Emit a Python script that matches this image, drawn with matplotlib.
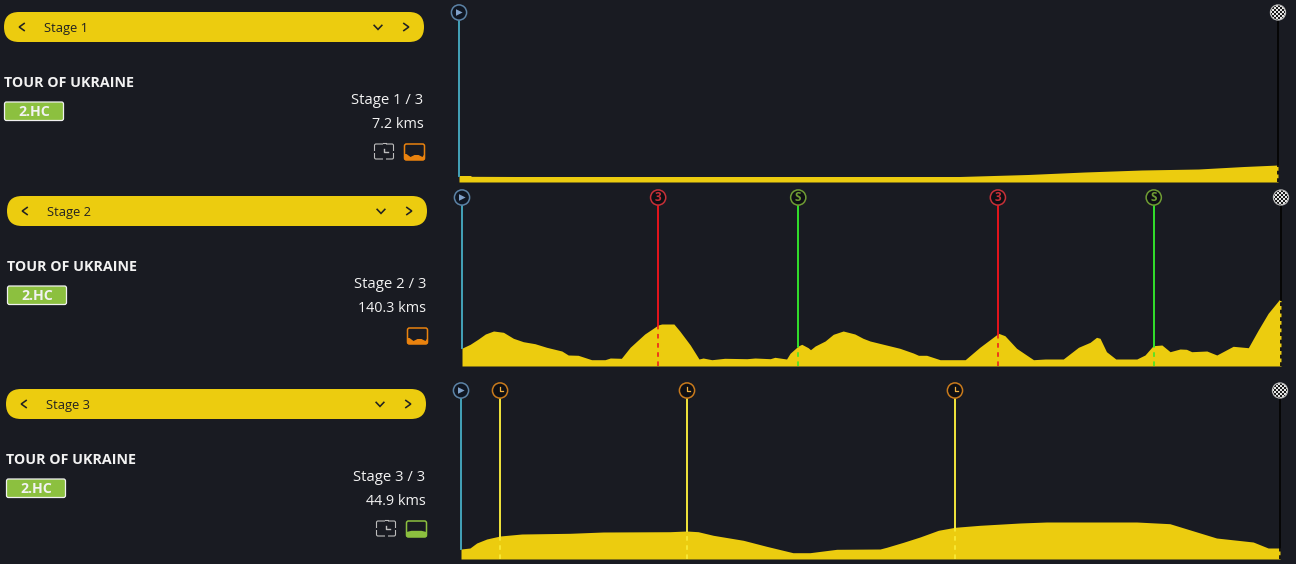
import numpy as np
import matplotlib
matplotlib.use("Agg")
import matplotlib.pyplot as plt
from matplotlib.patches import FancyBboxPatch, Circle, Rectangle, Polygon

plt.rcParams['font.family'] = ['Open Sans', 'DejaVu Sans']

race_name = "TOUR OF UKRAINE"
race_class = "2.HC"
stage_names = ["Stage 1", "Stage 2", "Stage 3"]
stage_counts = ["Stage 1 / 3", "Stage 2 / 3", "Stage 3 / 3"]
stage_lengths = ["7.2 kms", "140.3 kms", "44.9 kms"]
stage_totals = [7.2, 140.3, 44.9]

km_1 = [0, 0.1, 0.11, 0.5, 2.5, 4.4, 5.0, 5.5, 6.0, 6.5, 6.9, 7.2]
elev_1 = [6.5, 6.5, 5.7, 5.5, 5.5, 5.5, 7.5, 10, 12, 13, 15.5, 17]

km_2 = [0, 0.05, 1.4, 2.8, 4.0, 5.4, 7.1, 8.8, 10.5, 12.5, 14.5, 17.1, 18.2, 19.9, 22.2, 24.5, 25.4, 27.3,
        28.8, 31.3, 33.6, 34.2, 36.3, 37.3, 39.1, 40.6, 41.3, 42.8, 45.0, 48.8, 50.2, 52.8, 53.6, 55.6,
        56.2, 57.6, 58.2, 59.3, 59.7, 60.5, 62.2, 63.6, 65.3, 67.3, 68.7, 69.9, 72.2, 75.0, 77.3, 78.2,
        79.6, 81.9, 86.2, 88.7, 91.9, 93.0, 95.0, 96.7, 97.9, 99.9, 103.0, 105.6, 107.6, 108.7, 109.3,
        110.4, 112.0, 115.6, 117.0, 118.4, 119.9, 121.3, 123.0, 124.1, 125.0, 127.6, 129.3, 132.1, 134.7,
        136.4, 138.1, 140.1, 140.3]
elev_2 = [17.7, 18, 21.7, 27, 32, 35, 33.7, 27.7, 24.3, 22.3, 18.7, 15, 11, 10.7, 6.3, 6.3, 8, 7.7,
          18.7, 32, 41, 42, 42, 35, 21, 7, 8, 6.3, 7.7, 7.3, 8, 7.3, 8.7, 7,
          12.7, 20, 21.7, 18.3, 16.3, 20, 25, 31.7, 35, 32, 27.7, 25, 21.7, 17.7, 13, 10.7,
          10.7, 6.3, 6.3, 18.7, 32.7, 30.3, 17.7, 11, 6.3, 7, 7, 18.7, 23.7, 28.7, 27.7,
          14.3, 7, 7, 11, 20.3, 21, 14.3, 17, 16.7, 14.3, 15, 11, 19.7, 18.3,
          36, 52.7, 67, 66]

km_3 = [0, 0.49, 0.86, 1.41, 2.14, 3.33, 5.97, 7.8, 11.46, 12.37, 13.0, 13.83, 15.48, 16.75, 18.2, 19.13,
        20.6, 22.97, 23.33, 24.25, 25.16, 26.17, 27.08, 28.45, 30.64, 32.1, 37.04, 38.86, 41.42, 43.43,
        44.25, 44.9]
elev_3 = [10, 11, 16, 20, 23, 25, 25.7, 27, 27.3, 28, 27.3, 23.7, 18.7, 12.7, 6.3, 6.3,
          9.7, 10, 11.7, 16.7, 22, 28.7, 31.7, 33.7, 36, 37, 37, 35.3, 21, 17, 11, 11]

profiles_km = [km_1, km_2, km_3]
profiles_elev = [elev_1, elev_2, elev_3]

marker_km_1 = []
marker_kind_1 = []
marker_km_2 = [33.6, 57.6, 91.8, 118.5]
marker_kind_2 = ["3", "S", "3", "S"]
marker_km_3 = [2.14, 12.39, 27.08]
marker_kind_3 = ["T", "T", "T"]
markers_km = [marker_km_1, marker_km_2, marker_km_3]
markers_kind = [marker_kind_1, marker_kind_2, marker_kind_3]

W, H = 1296, 564
BG = "#191b22"
YEL = "#eccc0f"
GREEN = "#8cc03f"
ORANGE = "#e9820e"
WHITE = "#f2f2f2"

x_off = [0, 3, 2]
y_off = [0, 184, 377]
prof_x0 = [459, 462, 461]
base_y = [182, 366, 559]
icon_y = [12.5, 197.5, 390.5]
prof_w = 819

fig = plt.figure(figsize=(W / 100, H / 100), dpi=100, facecolor=BG)
ui = fig.add_axes([0, 0, 1, 1], zorder=5)
ui.set_xlim(0, W)
ui.set_ylim(H, 0)
ui.axis("off")
ui.patch.set_alpha(0)


def chevron(x, y, d, color="#222222"):
    s = 4.0
    if d == "left":
        pts = [(x + s * .7, y - s), (x - s * .7, y), (x + s * .7, y + s)]
    elif d == "right":
        pts = [(x - s * .7, y - s), (x + s * .7, y), (x - s * .7, y + s)]
    else:
        pts = [(x - s * 1.1, y - s * .55), (x, y + s * .6), (x + s * 1.1, y - s * .55)]
    ui.plot(*zip(*pts), color=color, lw=1.15, solid_capstyle="butt", solid_joinstyle="miter")


def round_box(x0, y0, w, h, r, **kw):
    p = FancyBboxPatch((x0 + r, y0 + r), w - 2 * r, h - 2 * r, boxstyle=f"round,pad={r},rounding_size={r}", **kw)
    ui.add_patch(p)
    return p


def tt_icon(x, y):
    c = "#bdbdbd"
    round_box(x, y, 19, 15, 1.5, fc="none", ec=c, lw=.8)
    ui.add_patch(Rectangle((x + 8.2, y - 2), 2.8, 3.4, fc=BG, ec="none", zorder=3))
    ui.plot([x + 8, x + 11], [y - 1.5, y - 1.5], color=c, lw=.8, zorder=4)
    ui.add_patch(Rectangle((x + 8.2, y + 13.5), 2.8, 3, fc=BG, ec="none", zorder=3))
    for sx in (x - 1, x + 18):
        ui.add_patch(Rectangle((sx, y + 6.5), 2, 2, fc=BG, ec="none", zorder=3))
    ui.plot([x + 9.5, x + 9.5, x + 13.5], [y + 4.5, y + 8, y + 8], color=c, lw=1.0, zorder=4)


def prof_icon(x, y, color, flat):
    round_box(x, y, 20, 16, 2, fc=BG, ec=color, lw=1.1)
    if flat:
        xs = [x, x + 5, x + 15, x + 20, x + 20, x]
        ys = [y + 11, y + 9.8, y + 9.8, y + 11, y + 16, y + 16]
    else:
        xs = [x, x + 2, x + 6, x + 10, x + 14, x + 18, x + 20, x + 20, x]
        ys = [y + 10, y + 10, y + 13, y + 11, y + 11, y + 13, y + 10, y + 16, y + 16]
    ui.add_patch(Polygon(list(zip(xs, ys)), fc=color, ec="none", zorder=3))


def checker(x, y):
    r = 7.0
    clip = Circle((x, y), r, transform=ui.transData)
    ui.add_patch(Circle((x, y), 7.6, fc="#b5b5b5", ec="#bdbdbd", lw=.8, zorder=4))
    s = 2.0
    for i in range(-4, 4):
        for j in range(-4, 4):
            c = "#e6e6e6" if (i + j) % 2 else "#1a1a1a"
            q = Rectangle((x + i * s, y + j * s), s, s, fc=c, ec="none", zorder=5)
            ui.add_patch(q)
            q.set_clip_path(clip)


def ring(x, y, ec, fc="#0e0f14"):
    ui.add_patch(Circle((x, y), 7.6, fc=fc, ec=ec, lw=1.1, zorder=4))


LINE_COL = {"3": "#ee141c", "S": "#33e82c", "T": "#fbee3c"}
RING_COL = {"3": "#c73038", "S": "#6f9c34", "T": "#c87a1c"}
LW = 1.35

for i in range(3):
    dx, dy = x_off[i], y_off[i]
    round_box(4 + dx, 12 + dy, 420, 30, 15, fc=YEL, ec="none")
    chevron(22 + dx, 27 + dy, "left")
    chevron(378 + dx, 27 + dy, "down")
    chevron(406 + dx, 27 + dy, "right")
    ui.text(44 + dx, 28.3 + dy, stage_names[i], fontsize=9.3, color="#222222", va="center", ha="left")
    ui.text(4 + dx, 83 + dy, race_name, fontsize=10.3, fontweight="bold", color=WHITE, va="center", ha="left")
    round_box(4.5 + dx, 102 + dy, 59, 18.5, 2, fc=GREEN, ec="#f0f0f0", lw=.9)
    ui.text(34 + dx, 112 + dy, race_class, fontsize=10.2, fontweight="bold", color=WHITE, va="center", ha="center")
    ui.text(423.5 + dx, 100.3 + dy, stage_counts[i], fontsize=10.7, color=WHITE, va="center", ha="right")
    ui.text(423.5 + dx, 124.3 + dy, stage_lengths[i], fontsize=10.4, color=WHITE, va="center", ha="right")
    if i != 1:
        tt_icon(374.5 + dx, 144 + dy)
    if i == 2:
        prof_icon(404.5 + dx, 144 + dy, GREEN, True)
    else:
        prof_icon(404.5 + dx, 144 + dy, ORANGE, False)

    top = int(icon_y[i]) - 10
    h_px = base_y[i] - top
    ax = fig.add_axes([prof_x0[i] / W, 1 - base_y[i] / H, prof_w / W, h_px / H], zorder=2)
    ax.set_xlim(0, stage_totals[i])
    ax.set_ylim(0, h_px)
    ax.axis("off")
    km, el = profiles_km[i], profiles_elev[i]
    ax.fill_between(km, 0, el, color=YEL, lw=0)
    line_top = base_y[i] - icon_y[i] - 8

    ax.plot([0, 0], [el[0], line_top], color="#45a8bf", lw=LW, clip_on=False)
    ax.plot([stage_totals[i]] * 2, [el[-1], line_top], color="#050505", lw=LW, clip_on=False)
    ax.plot([stage_totals[i]] * 2, [0, el[-1]], color="#111111", lw=LW, ls=(0, (2, 2)), clip_on=False)

    px_of = lambda v: ax.transData.transform((v, 0))[0]
    sx = px_of(0)
    ring(sx, icon_y[i], "#5c83a6", "#0f1622")
    ui.add_patch(Polygon([(sx - 3, icon_y[i] - 3.3), (sx + 3.6, icon_y[i]), (sx - 3, icon_y[i] + 3.3)],
                         fc="#7fa0c8", ec="none", zorder=5))
    checker(px_of(stage_totals[i]), icon_y[i])

    for m, kind in zip(markers_km[i], markers_kind[i]):
        e = np.interp(m, km, el)
        ax.plot([m, m], [e, line_top], color=LINE_COL[kind], lw=LW)
        ax.plot([m, m], [0, e], color=LINE_COL[kind], lw=1.1, ls=(0, (3, 3)))
        mx = px_of(m)
        ring(mx, icon_y[i], RING_COL[kind])
        if kind == "T":
            ui.plot([mx, mx, mx + 2.8], [icon_y[i] - 3.5, icon_y[i] + .5, icon_y[i] + .5],
                    color="#f0b040", lw=.9, zorder=5)
        else:
            ui.text(mx, icon_y[i] + .2, kind, fontsize=8.5, fontweight="bold", color=RING_COL[kind],
                    ha="center", va="center", zorder=5)

fig.savefig("out.png", dpi=100, facecolor=BG)
